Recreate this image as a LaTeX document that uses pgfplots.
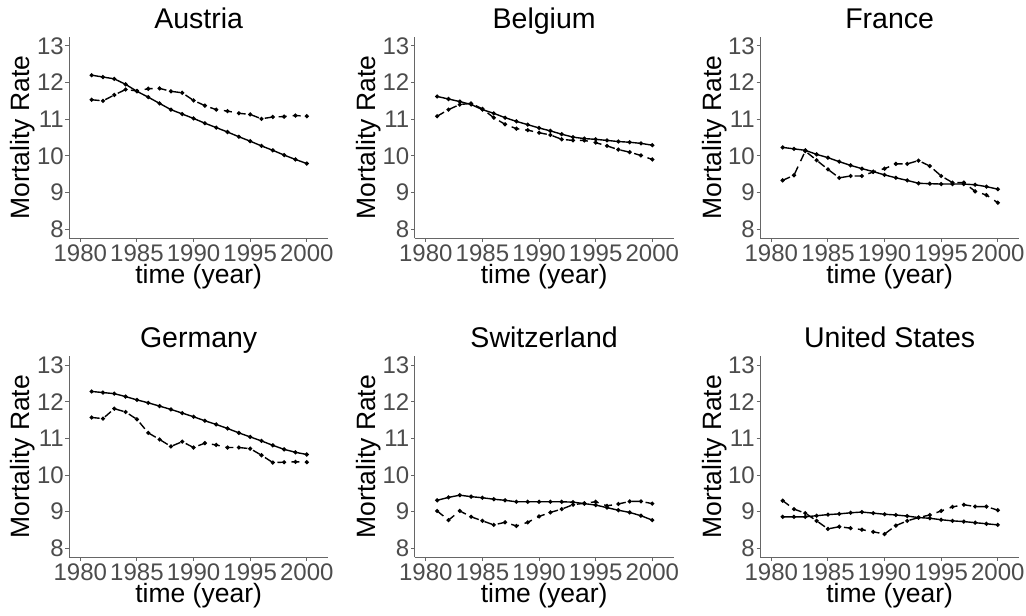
\documentclass[border=0pt]{standalone}
\usepackage{fontspec}
\setmainfont{Liberation Sans}
\usepackage{pgfplots}
\usepackage{pgfplotstable}
\pgfplotsset{compat=1.18}

\pgfplotstableread{
year s d
1981 12.20 11.53
1982 12.15 11.50
1983 12.10 11.66
1984 11.95 11.81
1985 11.76 11.77
1986 11.60 11.83
1987 11.43 11.84
1988 11.26 11.76
1989 11.14 11.72
1990 11.02 11.51
1991 10.89 11.37
1992 10.77 11.26
1993 10.65 11.22
1994 10.52 11.16
1995 10.40 11.13
1996 10.27 11.01
1997 10.15 11.06
1998 10.02 11.07
1999 9.90 11.10
2000 9.79 11.08
}\austria

\pgfplotstableread{
year s d
1981 11.62 11.08
1982 11.55 11.26
1983 11.48 11.40
1984 11.40 11.43
1985 11.26 11.28
1986 11.16 11.04
1987 11.04 10.86
1988 10.94 10.74
1989 10.85 10.70
1990 10.76 10.63
1991 10.68 10.57
1992 10.59 10.45
1993 10.51 10.42
1994 10.47 10.42
1995 10.45 10.36
1996 10.42 10.27
1997 10.39 10.17
1998 10.37 10.10
1999 10.34 10.01
2000 10.29 9.90
}\belgium

\pgfplotstableread{
year s d
1981 10.23 9.33
1982 10.19 9.47
1983 10.15 10.13
1984 10.04 9.88
1985 9.95 9.63
1986 9.84 9.40
1987 9.74 9.45
1988 9.65 9.45
1989 9.57 9.56
1990 9.48 9.65
1991 9.40 9.78
1992 9.33 9.78
1993 9.25 9.87
1994 9.24 9.72
1995 9.23 9.45
1996 9.23 9.27
1997 9.23 9.27
1998 9.21 9.03
1999 9.16 8.93
2000 9.09 8.72
}\france

\pgfplotstableread{
year s d
1981 12.28 11.57
1982 12.25 11.54
1983 12.22 11.81
1984 12.14 11.72
1985 12.05 11.52
1986 11.97 11.15
1987 11.88 10.97
1988 11.79 10.78
1989 11.69 10.91
1990 11.59 10.75
1991 11.48 10.87
1992 11.38 10.82
1993 11.27 10.75
1994 11.15 10.75
1995 11.04 10.72
1996 10.93 10.54
1997 10.81 10.34
1998 10.70 10.35
1999 10.62 10.36
2000 10.56 10.35
}\germany

\pgfplotstableread{
year s d
1981 9.31 9.02
1982 9.39 8.77
1983 9.45 9.02
1984 9.41 8.86
1985 9.38 8.75
1986 9.34 8.64
1987 9.31 8.71
1988 9.27 8.61
1989 9.27 8.71
1990 9.27 8.87
1991 9.27 8.98
1992 9.27 9.07
1993 9.26 9.19
1994 9.22 9.23
1995 9.18 9.27
1996 9.11 9.16
1997 9.04 9.21
1998 8.98 9.28
1999 8.89 9.28
2000 8.77 9.22
}\switzerland

\pgfplotstableread{
year s d
1981 8.86 9.30
1982 8.86 9.07
1983 8.86 8.96
1984 8.89 8.75
1985 8.92 8.53
1986 8.94 8.59
1987 8.97 8.55
1988 8.99 8.51
1989 8.96 8.45
1990 8.93 8.39
1991 8.91 8.62
1992 8.88 8.75
1993 8.84 8.84
1994 8.82 8.91
1995 8.78 9.02
1996 8.75 9.13
1997 8.73 9.19
1998 8.70 9.14
1999 8.67 9.14
2000 8.64 9.04
}\usa

\pgfplotsset{
  panel/.style={
    scale only axis, width=259.3pt, height=201.6pt, anchor=south west,
    xmin=1979, xmax=2001.9, ymin=7.75, ymax=13.25,
    xtick={1980,1985,1990,1995,2000}, ytick={8,9,10,11,12,13},
    axis x line*=bottom, axis y line*=left,
    axis line style={black!60, line width=0.9pt, -},
    tick style={black!60, line width=0.9pt}, major tick length=3.5pt, tick align=outside,
    /pgf/number format/assume math mode=true, /pgf/number format/1000 sep={},
    ticklabel style={font=\fontsize{24}{24}\selectfont, text=black!70},
    xticklabel style={anchor=north, inner sep=0pt, yshift=-3pt},
    yticklabel style={anchor=east, inner sep=0pt, xshift=-1.5pt},
    xlabel={time (year)}, ylabel={Mortality Rate},
    label style={font=\fontsize{26.5}{26.5}\selectfont, text=black},
    xlabel style={at={(axis description cs:0.5,-0.222)}, anchor=base},
    ylabel style={at={(axis description cs:-0.1504,0.5)}, anchor=base},
    title style={font=\fontsize{28.5}{28.5}\selectfont, at={(axis description cs:0.5,1.012)}, anchor=base},
    clip=false,
  },
  sline/.style={black, line width=1.4pt, mark=*, mark size=1.3pt, mark options={solid}},
  dline/.style={black, line width=1.4pt, dash pattern=on 8pt off 6pt, mark=*, mark size=1.3pt, mark options={solid}},
}

\begin{document}
\begin{tikzpicture}
\useasboundingbox (0pt,0pt) rectangle (1026pt,616pt);

\begin{axis}[panel, at={(69pt,377.7pt)}, title={Austria}]
\addplot[sline] table[x=year,y=s]{\austria};
\addplot[dline] table[x=year,y=d]{\austria};
\end{axis}

\begin{axis}[panel, at={(414.5pt,377.7pt)}, title={Belgium}]
\addplot[sline] table[x=year,y=s]{\belgium};
\addplot[dline] table[x=year,y=d]{\belgium};
\end{axis}

\begin{axis}[panel, at={(760pt,377.7pt)}, title={France}]
\addplot[sline] table[x=year,y=s]{\france};
\addplot[dline] table[x=year,y=d]{\france};
\end{axis}

\begin{axis}[panel, at={(69pt,58.5pt)}, title={Germany}]
\addplot[sline] table[x=year,y=s]{\germany};
\addplot[dline] table[x=year,y=d]{\germany};
\end{axis}

\begin{axis}[panel, at={(414.5pt,58.5pt)}, title={Switzerland}]
\addplot[sline] table[x=year,y=s]{\switzerland};
\addplot[dline] table[x=year,y=d]{\switzerland};
\end{axis}

\begin{axis}[panel, at={(760pt,58.5pt)}, title={United States}]
\addplot[sline] table[x=year,y=s]{\usa};
\addplot[dline] table[x=year,y=d]{\usa};
\end{axis}
\end{tikzpicture}
\end{document}
